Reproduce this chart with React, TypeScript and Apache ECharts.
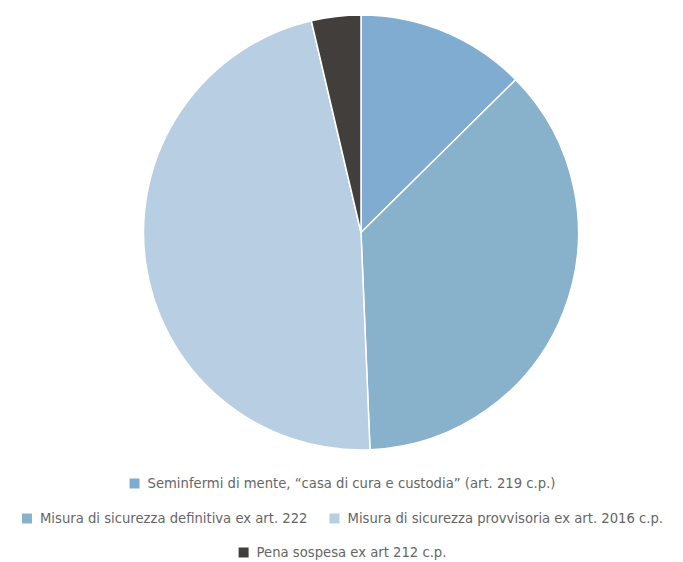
import React, { useEffect, useRef } from "react";
import * as echarts from "echarts";

const categories = [
  "Seminfermi di mente, “casa di cura e custodia” (art. 219 c.p.)",
  "Misura di sicurezza definitiva ex art. 222",
  "Misura di sicurezza provvisoria ex art. 2016 c.p.",
  "Pena sospesa ex art 212 c.p.",
];
const values = [12.6, 36.75, 47.0, 3.67];
const colors = ["#80acd1", "#88b1cb", "#b8cee3", "#413e3b"];

export default function App() {
  const ref = useRef<HTMLDivElement>(null);
  useEffect(() => {
    if (!ref.current) return;
    const chart = echarts.init(ref.current, null, { renderer: "svg" });
    const legendBase = {
      left: "center",
      padding: 0,
      icon: "rect",
      itemWidth: 12,
      itemHeight: 12,
      itemGap: 20,
      textStyle: { color: "#666", fontSize: 13.2, fontFamily: "DejaVu Sans", padding: [0, 0, 0, 2] },
      selectedMode: false,
    };
    chart.setOption({
      animation: false,
      color: colors,
      legend: [
        { ...legendBase, top: 476.5, data: [categories[0]] },
        { ...legendBase, top: 511.5, data: [categories[1], categories[2]] },
        { ...legendBase, top: 545.5, data: [categories[3]] },
      ],
      series: [
        {
          type: "pie",
          center: [361, 232.5],
          radius: 217.5,
          startAngle: 90,
          clockwise: true,
          label: { show: false },
          labelLine: { show: false },
          itemStyle: { borderColor: "#fff", borderWidth: 1.5 },
          emphasis: { disabled: true },
          data: categories.map((name, i) => ({ name, value: values[i] })),
        },
      ],
    });
    return () => chart.dispose();
  }, []);
  return <div ref={ref} style={{ width: 683, height: 562, position: "absolute", left: 0, top: 0 }} />;
}
